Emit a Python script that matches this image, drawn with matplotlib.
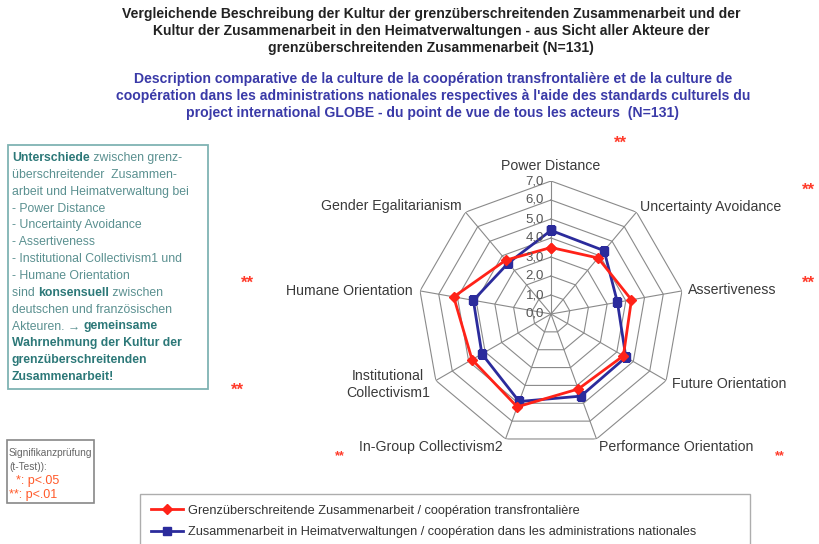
import numpy as np
import matplotlib
matplotlib.use("Agg")
import matplotlib.pyplot as plt

plt.rcParams['font.family'] = ['Liberation Sans', 'DejaVu Sans']

# --- data ------------------------------------------------------------------
dimensions = ["Power Distance", "Uncertainty Avoidance", "Assertiveness",
              "Future Orientation", "Performance Orientation",
              "In-Group Collectivism2", "Institutional\nCollectivism1",
              "Humane Orientation", "Gender Egalitarianism"]
grenz = [3.5, 3.85, 4.3, 4.4, 4.2, 5.2, 4.8, 5.2, 3.7]
heimat = [4.4, 4.35, 3.55, 4.55, 4.6, 4.9, 4.2, 4.15, 3.5]
ticks = [0, 1, 2, 3, 4, 5, 6, 7]
tick_labels = ["0,0", "1,0", "2,0", "3,0", "4,0", "5,0", "6,0", "7,0"]
label_grenz = "Grenzüberschreitende Zusammenarbeit / coopération transfrontalière"
label_heimat = "Zusammenarbeit in Heimatverwaltungen / coopération dans les administrations nationales"

title_de = ("Vergleichende Beschreibung der Kultur der grenzüberschreitenden Zusammenarbeit und der\n"
            "Kultur der Zusammenarbeit in den Heimatverwaltungen - aus Sicht aller Akteure der\n"
            "grenzüberschreitenden Zusammenarbeit (N=131)")
title_fr = ("Description comparative de la culture de la coopération transfrontalière et de la culture de\n"
            "coopération dans les administrations nationales respectives à l'aide des standards culturels du\n"
            "project international GLOBE - du point de vue de tous les acteurs  (N=131)")

W, H = 819, 544
fig = plt.figure(figsize=(W / 100, H / 100), dpi=100)
fig.patch.set_facecolor("white")

def fx(px):
    return px / W

def fy(py):
    return 1 - py / H

# --- titles ----------------------------------------------------------------
fig.text(fx(431), fy(7), title_de, ha="center", va="top", fontsize=10.1,
         fontweight="bold", color="#222222", linespacing=1.27)
fig.text(fx(433), fy(72), title_fr, ha="center", va="top", fontsize=10.1,
         fontweight="bold", color="#3a3aa8", linespacing=1.27)

# --- radar -----------------------------------------------------------------
cx, cy, R = 551, 314, 133
ax = fig.add_axes([fx(cx - R), fy(cy + R), 2 * R / W, 2 * R / H], projection="polar")
ax.set_theta_zero_location("N")
ax.set_theta_direction(-1)
ax.set_ylim(0, 7)
ax.grid(False)
ax.spines["polar"].set_visible(False)
ax.set_xticks([])
ax.set_yticks([])
ax.patch.set_alpha(0)

n = len(dimensions)
angles = np.linspace(0, 2 * np.pi, n, endpoint=False)
ang_c = np.append(angles, angles[0])

for r in ticks[1:]:
    ax.plot(ang_c, [r] * (n + 1), color="#8a8a8a", lw=0.8, zorder=1)
for a in angles:
    ax.plot([a, a], [0, 7], color="#8a8a8a", lw=0.8, zorder=1)

ax.plot(ang_c, grenz + grenz[:1], color="#ff2218", lw=2, marker="D", ms=5,
        label=label_grenz, zorder=4)
ax.plot(ang_c, heimat + heimat[:1], color="#2b2b9c", lw=2, marker="s", ms=6,
        label=label_heimat, zorder=3)

for r, t in zip(ticks, tick_labels):
    ax.annotate(t, (0, r), xytext=(-7, 0), textcoords="offset pixels",
                ha="right", va="center", fontsize=9.5, color="#555555", zorder=5)

# category label offsets (pixels from outer vertex) and alignment
offsets = [(0, 15, "center"), (4, 5, "left"), (6, 1, "left"), (6, -4, "left"),
           (3, -8, "left"), (-3, -8, "right"), (-6, -4, "right"),
           (-7, 0, "right"), (-4, 6, "right")]
for a, lab, (ox, oy, ha) in zip(angles, dimensions, offsets):
    ax.annotate(lab, (a, 7), xytext=(ox, oy), textcoords="offset pixels",
                ha=ha, va="center", fontsize=10.2, color="#3a3a3a",
                multialignment="center", annotation_clip=False)

# significance stars
stars = [(620, 143, 12), (808, 190, 12), (808, 283, 12), (780, 456, 9),
         (340, 456, 9), (237, 390, 12), (247, 283, 12)]
for sx, sy, fs in stars:
    fig.text(fx(sx), fy(sy), "**", ha="center", va="center", fontsize=fs,
             fontweight="bold", color="#ff3b2b")

# --- left text box ---------------------------------------------------------
fig.patches.append(plt.Rectangle((fx(8), fy(389)), fx(200), (389 - 145) / H,
                                 transform=fig.transFigure, fill=False,
                                 edgecolor="#7fb3b3", lw=1.3))
box_lines = [
    [("Unterschiede", True), (" zwischen grenz-", False)],
    [("überschreitender  Zusammen-", False)],
    [("arbeit und Heimatverwaltung bei", False)],
    [("- Power Distance", False)],
    [("- Uncertainty Avoidance", False)],
    [("- Assertiveness", False)],
    [("- Institutional Collectivism1 und", False)],
    [("- Humane Orientation", False)],
    [("sind ", False), ("konsensuell", True), (" zwischen", False)],
    [("deutschen und französischen", False)],
    [("Akteuren. \u2192 ", False), ("gemeinsame", True)],
    [("Wahrnehmung der Kultur der", True)],
    [("grenzüberschreitenden", True)],
    [("Zusammenarbeit!", True)],
]
renderer = fig.canvas.get_renderer()
y0 = 158
for i, segs in enumerate(box_lines):
    x = 12
    for txt, bold in segs:
        t = fig.text(fx(x), fy(y0 + i * 16.85), txt, ha="left", va="center",
                     fontsize=8.8, fontweight="bold" if bold else "normal",
                     color="#2c7878" if bold else "#5a9090",
                     family=["Liberation Sans Narrow", "Liberation Sans", "DejaVu Sans"])
        x += t.get_window_extent(renderer).width

# --- significance box --------------------------------------------------------
fig.patches.append(plt.Rectangle((fx(7), fy(503)), fx(87), (503 - 440) / H,
                                 transform=fig.transFigure, fill=False,
                                 edgecolor="#888888", lw=1.2))
sig = [("Signifikanzprüfung", "#666666"), ("(t-Test)):", "#666666"),
       ("  *: p<.05", "#ff5a2a"), ("**: p<.01", "#ff5a2a")]
for i, (txt, col) in enumerate(sig):
    fig.text(fx(9), fy(453 + i * 14), txt, ha="left", va="center",
             fontsize=7.3 if i < 2 else 9, color=col,
             family=["Liberation Sans Narrow", "Liberation Sans", "DejaVu Sans"])

# --- legend ----------------------------------------------------------------
leg = fig.legend(loc="upper left", bbox_to_anchor=(fx(140), fy(494) - 0.1, fx(610), 0.1),
                 mode="expand", fontsize=9.2, frameon=True, fancybox=False,
                 handlelength=2.5, handletextpad=0.4, borderpad=0.85,
                 labelspacing=0.72, labelcolor="#333333", borderaxespad=0)
leg.get_frame().set_edgecolor("#999999")
leg.get_frame().set_linewidth(1.0)

fig.savefig("out.png", dpi=100, facecolor="white")
